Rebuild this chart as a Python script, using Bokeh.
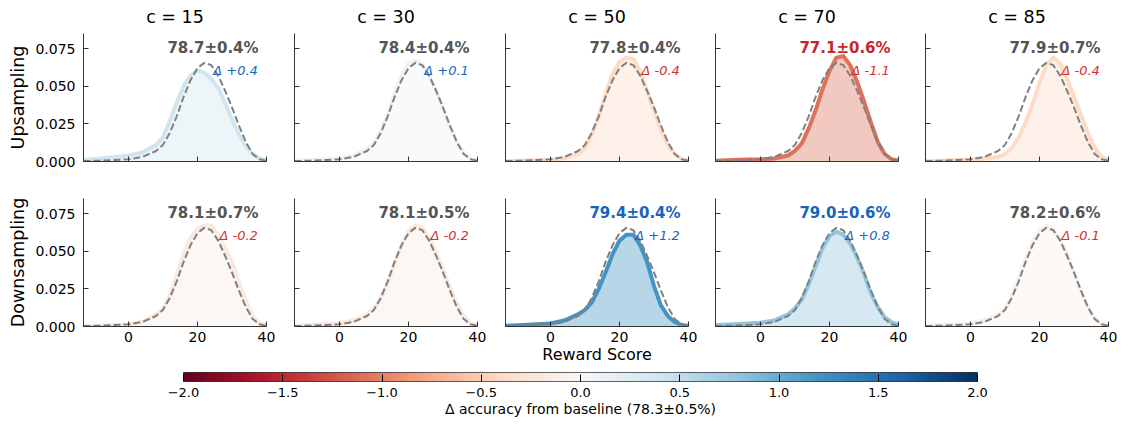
import numpy as np
from bokeh.plotting import figure
from bokeh.models import (Range1d, FixedTicker, PrintfTickFormatter, Label,
                          CustomJSTickFormatter, LinearColorMapper)
from bokeh.layouts import column, row
from bokeh.embed import file_html
from bokeh.resources import INLINE

FONT = "DejaVu Sans"

# ---------------- data ----------------
c_values = [15, 30, 50, 70, 85]
row_names = ["Upsampling", "Downsampling"]
reward_x = [-13, -8, -4, 0, 4, 8, 10, 12, 14, 16, 18, 20, 22, 24, 26, 28, 30, 32, 34, 36, 38, 40]
baseline_density = [0.0003, 0.0005, 0.001, 0.0015, 0.003, 0.007, 0.011, 0.019, 0.030, 0.043, 0.054,
                    0.062, 0.0655, 0.064, 0.057, 0.047, 0.036, 0.024, 0.013, 0.005, 0.0015, 0.0005]

up_c15 = [0.001, 0.002, 0.003, 0.004, 0.006, 0.011, 0.016, 0.027, 0.039, 0.050, 0.057,
          0.0605, 0.059, 0.055, 0.049, 0.039, 0.028, 0.018, 0.010, 0.005, 0.002, 0.0005]
up_c30 = [0.0005, 0.001, 0.0015, 0.002, 0.004, 0.008, 0.012, 0.020, 0.031, 0.045, 0.057,
          0.065, 0.067, 0.064, 0.057, 0.047, 0.035, 0.023, 0.013, 0.006, 0.002, 0.0005]
up_c50 = [0.0003, 0.0005, 0.0008, 0.001, 0.002, 0.005, 0.009, 0.018, 0.030, 0.045, 0.058,
          0.066, 0.069, 0.068, 0.060, 0.047, 0.034, 0.021, 0.011, 0.005, 0.0015, 0.0005]
up_c70 = [0.0005, 0.001, 0.0013, 0.0015, 0.002, 0.004, 0.007, 0.012, 0.022, 0.034, 0.048,
          0.060, 0.069, 0.070, 0.064, 0.053, 0.040, 0.026, 0.013, 0.005, 0.0015, 0.0005]
up_c85 = [0.0003, 0.0005, 0.001, 0.0012, 0.002, 0.003, 0.005, 0.009, 0.016, 0.026, 0.038,
          0.052, 0.064, 0.069, 0.065, 0.055, 0.043, 0.031, 0.019, 0.009, 0.003, 0.001]

down_c15 = [0.0003, 0.0005, 0.001, 0.0015, 0.003, 0.008, 0.012, 0.021, 0.034, 0.048, 0.059,
            0.065, 0.067, 0.067, 0.061, 0.052, 0.043, 0.030, 0.017, 0.007, 0.002, 0.0005]
down_c30 = [0.0005, 0.001, 0.0015, 0.002, 0.004, 0.008, 0.012, 0.019, 0.029, 0.042, 0.054,
            0.063, 0.067, 0.066, 0.059, 0.049, 0.038, 0.026, 0.015, 0.007, 0.002, 0.0005]
down_c50 = [0.0005, 0.001, 0.0015, 0.002, 0.004, 0.008, 0.011, 0.016, 0.025, 0.036, 0.048,
            0.057, 0.061, 0.061, 0.054, 0.043, 0.027, 0.014, 0.007, 0.003, 0.001, 0.0003]
down_c70 = [0.001, 0.0015, 0.002, 0.0025, 0.004, 0.008, 0.012, 0.018, 0.028, 0.040, 0.052,
            0.060, 0.063, 0.061, 0.055, 0.046, 0.035, 0.022, 0.013, 0.006, 0.003, 0.001]
down_c85 = [0.0005, 0.001, 0.0015, 0.002, 0.004, 0.008, 0.012, 0.020, 0.032, 0.045, 0.056,
            0.064, 0.067, 0.065, 0.058, 0.048, 0.036, 0.024, 0.013, 0.006, 0.002, 0.0005]

up_acc = [78.7, 78.4, 77.8, 77.1, 77.9]
up_std = [0.4, 0.4, 0.4, 0.6, 0.7]
up_delta = [0.4, 0.1, -0.4, -1.1, -0.4]
down_acc = [78.1, 78.1, 79.4, 79.0, 78.2]
down_std = [0.7, 0.5, 0.4, 0.6, 0.6]
down_delta = [-0.2, -0.2, 1.2, 0.8, -0.1]
baseline_acc = 78.3
baseline_std = 0.5

x_ticks = [0, 20, 40]
y_ticks = [0.0, 0.025, 0.05, 0.075]
cbar_ticks = [-2.0, -1.5, -1.0, -0.5, 0.0, 0.5, 1.0, 1.5, 2.0]

# ---------------- colour map (RdBu) ----------------
RDBU = ["#67001f", "#b2182b", "#d6604d", "#f4a582", "#fddbc7", "#f7f7f7",
        "#d1e5f0", "#92c5de", "#4393c3", "#2166ac", "#053061"]
_anch = np.array([[int(h[i:i + 2], 16) for i in (1, 3, 5)] for h in RDBU], dtype=float)


def rdbu(t):
    t = min(max(t, 0.0), 1.0)
    pos = np.linspace(0, 1, len(RDBU))
    rgb = [np.interp(t, pos, _anch[:, k]) for k in range(3)]
    return "#%02x%02x%02x" % tuple(int(round(v)) for v in rgb)


def delta_color(d):
    return rdbu((d + 2.0) / 4.0)


palette = [rdbu(t) for t in np.linspace(0, 1, 256)]

# ---------------- layout constants ----------------
fig_widths = [289, 211, 210, 210, 204]
left_borders = [83, 5, 5, 5, 5]
right_borders = [23, 23, 22, 22, 16]

series = {0: [up_c15, up_c30, up_c50, up_c70, up_c85],
          1: [down_c15, down_c30, down_c50, down_c70, down_c85]}
accs = {0: up_acc, 1: down_acc}
stds = {0: up_std, 1: down_std}
deltas = {0: up_delta, 1: down_delta}

BLANK = "return '';"


def make_panel(ri, ci):
    top = ri == 0
    p = figure(width=fig_widths[ci], height=173 if top else 193,
               x_range=Range1d(-13, 40), y_range=Range1d(0, 0.085),
               toolbar_location=None, output_backend="svg",
               min_border_left=left_borders[ci], min_border_right=right_borders[ci],
               min_border_top=33 if top else 25, min_border_bottom=12 if top else 40)
    p.grid.visible = False
    p.outline_line_color = None
    p.background_fill_color = "white"

    d = deltas[ri][ci]
    col = delta_color(d)
    ys = series[ri][ci]
    p.varea(x=reward_x, y1=[0] * len(reward_x), y2=ys, fill_color=col, fill_alpha=0.38)
    p.line(reward_x, ys, line_color=col, line_width=4, line_join="round")
    p.line(reward_x, baseline_density, line_color="#808080", line_width=2,
           line_dash="7 3", line_join="round")

    p.xaxis.ticker = FixedTicker(ticks=x_ticks)
    p.xaxis.formatter = PrintfTickFormatter(format="%d")
    p.yaxis.ticker = FixedTicker(ticks=y_ticks)
    p.yaxis.formatter = PrintfTickFormatter(format="%.3f")
    for ax in (p.xaxis, p.yaxis):
        ax.major_tick_in = 5
        ax.major_tick_out = 0
        ax.minor_tick_line_color = None
        ax.axis_line_color = "#333333"
        ax.major_tick_line_color = "#333333"
        ax.major_label_text_font = FONT
        ax.major_label_text_font_size = "14px"
        ax.major_label_text_color = "#000000"
    p.xaxis.major_label_standoff = 5
    p.yaxis.major_label_standoff = 8
    if top:
        p.xaxis.formatter = CustomJSTickFormatter(code=BLANK)
        p.xaxis.major_label_text_color = None
        p.xaxis.major_label_standoff = 0
    if ci != 0:
        p.yaxis.formatter = CustomJSTickFormatter(code=BLANK)
        p.yaxis.major_label_text_color = None
        p.yaxis.major_label_standoff = 0
    else:
        p.yaxis.axis_label = row_names[ri]
        p.yaxis.axis_label_text_font = FONT
        p.yaxis.axis_label_text_font_size = "17.5px"
        p.yaxis.axis_label_text_font_style = "normal"
        p.yaxis.axis_label_text_color = "#000000"
        p.yaxis.axis_label_standoff = 4
    if (not top) and ci == 2:
        p.xaxis.axis_label = "Reward Score"
        p.xaxis.axis_label_text_font = FONT
        p.xaxis.axis_label_text_font_size = "16px"
        p.xaxis.axis_label_text_font_style = "normal"
        p.xaxis.axis_label_text_color = "#000000"
        p.xaxis.axis_label_standoff = 0

    if top:
        p.title.text = f"c = {c_values[ci]}"
        p.title.align = "center"
        p.title.vertical_align = "middle"
        p.title.text_font = FONT
        p.title.text_font_size = "17.5px"
        p.title.text_font_style = "normal"
        p.title.text_color = "#000000"
        p.title.standoff = 11

    acc_col = "#555555"
    if abs(d) > 0.5:
        acc_col = "#1565c0" if d > 0 else "#c62828"
    p.add_layout(Label(x=37.7, y=0.0757,
                       text=f"{accs[ri][ci]:.1f}\u00b1{stds[ri][ci]:.1f}%",
                       text_align="right", text_baseline="middle", text_font=FONT,
                       text_font_size="15px", text_font_style="bold", text_color=acc_col))
    p.add_layout(Label(x=37.5, y=0.0604, text=f"\u0394 {d:+.1f}",
                       text_align="right", text_baseline="middle", text_font=FONT,
                       text_font_size="13px", text_font_style="italic",
                       text_color="#1565c0" if d > 0 else "#d32f2f"))
    return p


top_row = row(*[make_panel(0, c) for c in range(5)])
bot_row = row(*[make_panel(1, c) for c in range(5)])

# ---------------- colour bar ----------------
mapper = LinearColorMapper(palette=palette, low=-2, high=2)
cb = figure(width=1124, height=53, x_range=Range1d(-2, 2), y_range=Range1d(0, 1),
            toolbar_location=None, output_backend="svg", y_axis_location=None,
            min_border_left=183, min_border_right=147, min_border_top=6, min_border_bottom=38)
cb.image(image=[np.linspace(-2, 2, 600)[None, :]], x=-2, y=0, dw=4, dh=1, color_mapper=mapper)
cb.grid.visible = False
cb.outline_line_color = "#333333"
cb.xaxis.ticker = FixedTicker(ticks=cbar_ticks)
cb.xaxis.formatter = CustomJSTickFormatter(
    code="return (tick < 0 ? '\\u2212' : '') + Math.abs(tick).toFixed(1);")
cb.xaxis.axis_line_color = None
cb.xaxis.major_tick_in = 7
cb.xaxis.major_tick_out = 0
cb.xaxis.major_tick_line_color = "#000000"
cb.xaxis.minor_tick_line_color = None
cb.xaxis.major_label_text_font = FONT
cb.xaxis.major_label_text_font_size = "13px"
cb.xaxis.major_label_text_color = "#000000"
cb.xaxis.major_label_standoff = 6
cb.xaxis.axis_label = f"\u0394 accuracy from baseline ({baseline_acc:.1f}\u00b1{baseline_std:.1f}%)"
cb.xaxis.axis_label_text_font = FONT
cb.xaxis.axis_label_text_font_size = "14px"
cb.xaxis.axis_label_text_font_style = "normal"
cb.xaxis.axis_label_text_color = "#000000"
cb.xaxis.axis_label_standoff = 1

layout = column(top_row, bot_row, cb)

with open("out.html", "w") as f:
    f.write(file_html(layout, INLINE))
